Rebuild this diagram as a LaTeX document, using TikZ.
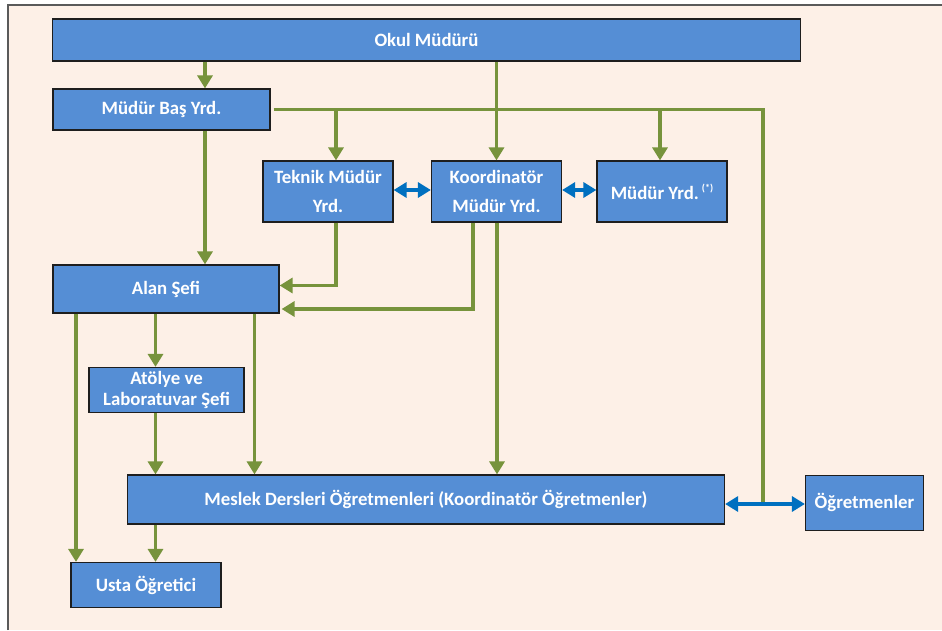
\documentclass[tikz,border=0pt]{standalone}
\usepackage{fontspec}
\setmainfont{Carlito}
\usetikzlibrary{arrows.meta}
\definecolor{pagebg}{HTML}{FDF0E7}
\definecolor{boxblue}{HTML}{558ED5}
\definecolor{boxline}{HTML}{1E1E1E}
\definecolor{linkgreen}{HTML}{77933C}
\definecolor{linkblue}{HTML}{0070C0}
\definecolor{framegray}{HTML}{5A5A5A}
\begin{document}
\begin{tikzpicture}[x=1pt,y=-1pt,
  orgbox/.style={rectangle, draw=boxline, line width=1.2pt, fill=boxblue,
    text=white, font=\fontsize{18.8}{29}\selectfont\bfseries, align=center, inner sep=0pt},
  flow/.style={draw=linkgreen, line width=3.2pt, -{Triangle[width=15pt,length=13pt]}},
  plainflow/.style={draw=linkgreen, line width=3.2pt},
  peer/.style={draw=linkblue, line width=3.2pt,
    {Triangle[width=15pt,length=13pt]}-{Triangle[width=15pt,length=13pt]}}]
\useasboundingbox (0,0) rectangle (942,630);
% sheet
\fill[white] (0,0) rectangle (942,630);
\fill[pagebg] (8,5) rectangle (942,630);
\draw[framegray, line width=1.5pt] (8,630) -- (8,5) -- (942,5);

% units
\node[orgbox, minimum width=748pt, minimum height=42pt] (okul) at (426.5,40) {Okul Müdürü};
\node[orgbox, minimum width=217pt, minimum height=41pt] (bas) at (161.5,109.5) {Müdür Baş Yrd.};
\node[orgbox, minimum width=130pt, minimum height=61pt] (teknik) at (328,191.5) {Teknik Müdür\\Yrd.};
\node[orgbox, minimum width=130pt, minimum height=61pt] (koord) at (496.5,191.5) {Koordinatör\\Müdür Yrd.};
\node[orgbox, minimum width=130pt, minimum height=61pt] (myrd) at (662,191.5)
  {Müdür Yrd.\,\raisebox{8pt}{\fontsize{10}{10}\selectfont(*)}};
\node[orgbox, minimum width=226pt, minimum height=48pt] (alan) at (166,289) {Alan Şefi};
\node[orgbox, minimum width=155pt, minimum height=45pt,
  font=\fontsize{18.8}{21.5}\selectfont\bfseries] (atolye) at (166.5,390) {Atölye ve\\Laboratuvar Şefi};
\node[orgbox, minimum width=597pt, minimum height=49pt] (meslek) at (426,499.5)
  {Meslek Dersleri Öğretmenleri (Koordinatör Öğretmenler)};
\node[orgbox, minimum width=118pt, minimum height=55pt] (ogret) at (864.5,502.7) {Öğretmenler};
\node[orgbox, minimum width=150pt, minimum height=45pt] (usta) at (146,585) {Usta Öğretici};

% reporting lines
\coordinate (hub) at (763,109.5);
\coordinate (hubend) at (763,503);
\draw[plainflow] ([xshift=3pt]bas.east) -- (hub) -- (hubend);
\draw[flow] (205,0 |- okul.south) -- (205,0 |- bas.north);
\draw[flow] (koord.north |- okul.south) -- (koord.north);
\draw[flow] (336,0 |- hub) -- (336,0 |- teknik.north);
\draw[flow] (660,0 |- hub) -- (660,0 |- myrd.north);
\draw[flow] (205,0 |- bas.south) -- (205,0 |- alan.north);
\draw[flow] (336,0 |- teknik.south) |- (alan.east |- 0,285.5);
\draw[flow] (473,0 |- koord.south) |- ([xshift=2pt]alan.east |- 0,309);
\draw[flow] (497,0 |- koord.south) -- (497,0 |- meslek.north);
\draw[flow] (155.5,0 |- alan.south) -- (155.5,0 |- atolye.north);
\draw[flow] (254.5,0 |- alan.south) -- (254.5,0 |- meslek.north);
\draw[flow] (76,0 |- alan.south) -- (76,0 |- usta.north);
\draw[flow] (155.5,0 |- atolye.south) -- (155.5,0 |- meslek.north);
\draw[flow] (155.5,0 |- meslek.south) -- (155.5,0 |- usta.north);

% peer links
\draw[peer] (teknik.east |- 0,190) -- (koord.west |- 0,190);
\draw[peer] (koord.east |- 0,190) -- (myrd.west |- 0,190);
\draw[peer] (meslek.east |- 0,504) -- (ogret.west |- 0,504);
\end{tikzpicture}
\end{document}
